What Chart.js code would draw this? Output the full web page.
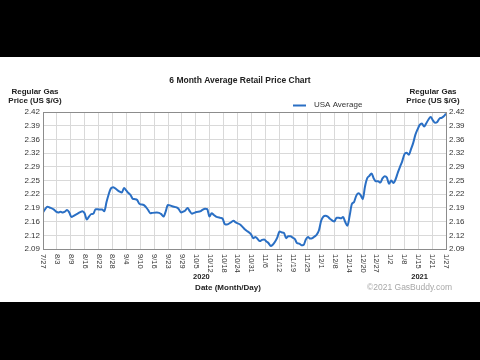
<!DOCTYPE html>
<html>
<head>
<meta charset="utf-8">
<script src="https://cdn.jsdelivr.net/npm/chart.js@4/dist/chart.umd.min.js"></script>
<style>
html,body{margin:0;padding:0;background:#000;}
canvas{display:block;}
</style>
</head>
<body>
<canvas id="c" width="480" height="360"></canvas>
<script>
// ---- data ----
const tickLabels = ['7/27','8/3','8/9','8/16','8/22','8/28','9/4','9/10','9/16','9/23','9/29','10/5','10/12','10/18','10/24','10/31','11/6','11/12','11/19','11/25','12/1','12/8','12/14','12/20','12/27','1/2','1/8','1/15','1/21','1/27'];
const yTickLabels = ['2.09','2.12','2.16','2.19','2.22','2.25','2.29','2.32','2.36','2.39','2.42'];
const yMin = 2.09, yMax = 2.42;
const totalDays = 184; // 7/27/2020 -> 1/27/2021
const seriesName = 'USA Average';
const days = [0,1,2,3,5,6,7,8,9,10,11,12,13,14,16,17,18,19,20,21,22,23,24,26,27,28,29,30,31,32,33,35,36,37,38,39,40,41,42,43,44,46,47,48,49,50,52,53,54,55,56,57,58,59,61,62,63,64,65,66,67,68,69,70,72,73,74,75,76,77,78,79,81,82,83,84,86,87,88,90,91,92,93,95,96,97,98,99,100,101,102,103,104,105,106,107,108,109,110,111,112,113,114,115,116,117,118,119,120,121,122,123,124,125,126,127,128,129,130,131,133,134,135,136,137,138,139,140,141,142,143,144,145,146,147,148,149,150,151,152,153,154,155,156,157,158,159,160,161,162,163,164,165,166,167,168,169,170,171,172,173,174,175,176,177,178,179,180,181,182,183,184];
const prices = [2.178,2.186,2.192,2.190,2.185,2.180,2.178,2.180,2.178,2.180,2.184,2.178,2.167,2.170,2.176,2.179,2.181,2.176,2.161,2.168,2.174,2.175,2.186,2.185,2.185,2.181,2.203,2.222,2.236,2.239,2.236,2.228,2.226,2.237,2.231,2.225,2.220,2.211,2.210,2.208,2.199,2.196,2.191,2.184,2.176,2.177,2.178,2.177,2.174,2.168,2.180,2.196,2.195,2.193,2.190,2.186,2.178,2.180,2.183,2.189,2.181,2.175,2.177,2.179,2.181,2.185,2.187,2.186,2.168,2.176,2.172,2.168,2.165,2.163,2.150,2.149,2.155,2.158,2.154,2.149,2.144,2.138,2.134,2.125,2.116,2.119,2.114,2.109,2.112,2.113,2.108,2.104,2.097,2.101,2.108,2.118,2.132,2.130,2.129,2.116,2.121,2.121,2.117,2.114,2.104,2.103,2.099,2.100,2.113,2.119,2.115,2.116,2.120,2.125,2.135,2.158,2.168,2.170,2.168,2.163,2.156,2.165,2.165,2.164,2.167,2.155,2.146,2.170,2.198,2.203,2.218,2.224,2.220,2.210,2.240,2.260,2.266,2.272,2.260,2.253,2.253,2.250,2.260,2.265,2.262,2.247,2.255,2.249,2.258,2.274,2.288,2.301,2.318,2.322,2.317,2.330,2.345,2.365,2.378,2.389,2.392,2.385,2.393,2.402,2.408,2.400,2.394,2.396,2.404,2.406,2.410,2.416];
const yearLabels = ['2020','2021'];
const yearTickPos = [11.4, 27.1]; // in tick-interval units

const FONT = '"Liberation Sans", Arial, sans-serif';
const points = days.map((d, i) => ({x: d, y: prices[i]}));
const tickStep = totalDays / (tickLabels.length - 1);
const yStep = (yMax - yMin) / (yTickLabels.length - 1);

const decor = {
  id: 'decor',
  beforeDraw(chart) {
    const ctx = chart.ctx;
    ctx.save();
    ctx.fillStyle = '#000';
    ctx.fillRect(0, 0, chart.width, chart.height);
    ctx.fillStyle = '#fff';
    ctx.fillRect(0, 57, chart.width, 245);
    ctx.restore();
  },
  afterDraw(chart) {
    const ctx = chart.ctx;
    const a = chart.chartArea;
    const xs = chart.scales.x;
    ctx.save();
    // plot border
    ctx.strokeStyle = '#8c8c8c';
    ctx.lineWidth = 1;
    ctx.strokeRect(Math.round(a.left) + 0.5, Math.round(a.top) + 0.5, Math.round(a.right - a.left), Math.round(a.bottom - a.top));
    // x tick labels, rotated clockwise
    ctx.fillStyle = '#333';
    ctx.font = '7.5px ' + FONT;
    ctx.textAlign = 'left';
    ctx.textBaseline = 'middle';
    tickLabels.forEach((lab, i) => {
      const px = xs.getPixelForValue(i * tickStep);
      ctx.save();
      ctx.translate(px, a.bottom + 5);
      ctx.rotate(Math.PI / 2);
      ctx.fillText(lab, 0, 0);
      ctx.restore();
    });
    // year labels
    ctx.font = 'bold 7.5px ' + FONT;
    ctx.textAlign = 'center';
    ctx.fillStyle = '#222';
    yearLabels.forEach((lab, i) => {
      ctx.fillText(lab, xs.getPixelForValue(yearTickPos[i] * tickStep), 277);
    });
    // axis title
    ctx.font = 'bold 8px ' + FONT;
    ctx.fillText('Date (Month/Day)', 228, 288);
    // copyright
    ctx.font = '8.5px ' + FONT;
    ctx.fillStyle = '#a8a8a8';
    ctx.textAlign = 'right';
    ctx.fillText('\u00a92021 GasBuddy.com', 452, 288);
    // title
    ctx.fillStyle = '#222';
    ctx.textAlign = 'center';
    ctx.font = 'bold 8.5px ' + FONT;
    ctx.fillText('6 Month Average Retail Price Chart', 240, 81);
    // y titles
    ctx.font = 'bold 8px ' + FONT;
    ctx.fillText('Regular Gas', 35, 92);
    ctx.fillText('Price (US $/G)', 35, 101);
    ctx.fillText('Regular Gas', 433, 92);
    ctx.fillText('Price (US $/G)', 433, 101);
    // legend
    ctx.strokeStyle = '#2a6fc4';
    ctx.lineWidth = 2;
    ctx.beginPath();
    ctx.moveTo(293, 105.5);
    ctx.lineTo(306, 105.5);
    ctx.stroke();
    ctx.font = '8px ' + FONT;
    ctx.fillStyle = '#333';
    ctx.textAlign = 'left';
    ctx.fillText(seriesName, 314, 105);
    ctx.restore();
  }
};

const yTicksCfg = {
  font: {family: FONT, size: 8},
  color: '#333',
  padding: 3,
  callback: (v, i) => yTickLabels[i]
};

new Chart(document.getElementById('c'), {
  type: 'line',
  data: {
    datasets: [{
      label: seriesName,
      data: points,
      borderColor: '#2a6fc4',
      borderWidth: 2,
      pointRadius: 0,
      tension: 0.3,
      cubicInterpolationMode: 'monotone',
      fill: false
    }]
  },
  options: {
    responsive: false,
    animation: false,
    devicePixelRatio: 1,
    layout: {padding: {top: 112, left: 0, right: 0, bottom: 0}},
    plugins: {legend: {display: false}, title: {display: false}, tooltip: {enabled: false}},
    scales: {
      x: {
        type: 'linear',
        min: 0,
        max: totalDays,
        afterBuildTicks: s => { s.ticks = tickLabels.map((_, i) => ({value: i * tickStep})); },
        afterFit: s => { s.height = 111; },
        ticks: {display: false},
        grid: {color: '#d9d9d9', drawTicks: false},
        border: {display: false}
      },
      y: {
        position: 'left',
        min: yMin,
        max: yMax,
        afterBuildTicks: s => { s.ticks = yTickLabels.map((_, i) => ({value: yMin + i * yStep})); },
        afterFit: s => { s.width = 43; },
        ticks: yTicksCfg,
        grid: {color: '#d9d9d9', drawTicks: false},
        border: {display: false}
      },
      y2: {
        position: 'right',
        min: yMin,
        max: yMax,
        afterBuildTicks: s => { s.ticks = yTickLabels.map((_, i) => ({value: yMin + i * yStep})); },
        afterFit: s => { s.width = 34; },
        ticks: yTicksCfg,
        grid: {display: false, drawTicks: false},
        border: {display: false}
      }
    }
  },
  plugins: [decor]
});
</script>
</body>
</html>
